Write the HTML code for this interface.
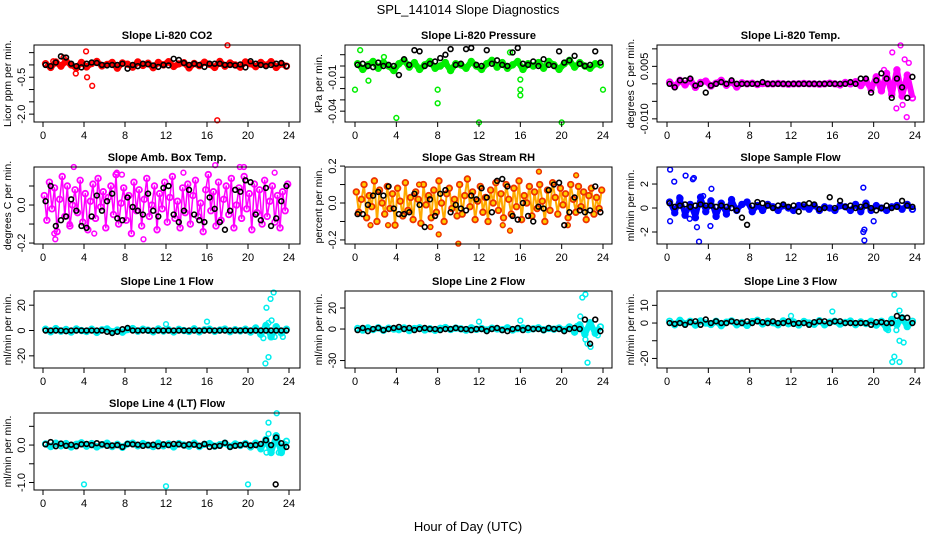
<!DOCTYPE html>
<html><head><meta charset="utf-8">
<style>
html,body{margin:0;padding:0;background:#fff;}
svg{display:block;font-family:"Liberation Sans",sans-serif;}
</style></head>
<body>
<svg id="chart" width="936" height="540" viewBox="0 0 936 540" xmlns="http://www.w3.org/2000/svg">
<text x="468" y="14" text-anchor="middle" font-size="13">SPL_141014  Slope Diagnostics</text>
<text x="468" y="531" text-anchor="middle" font-size="13">Hour of Day (UTC)</text>
</svg>
<script>
const xTicks=[0,4,8,12,16,20,24];
// CO2
const co2Band=[0.05,-0.1,0.12,-0.05,0.15,0.0,-0.12,0.1,-0.08,0.06,0.14,-0.04,0.02,0.1,-0.13,0.08,0.03,-0.09,0.12,-0.02,0.07,-0.11,0.1,0.0,0.13,-0.06,0.04,0.09,-0.12,0.06,-0.03,0.11,0.02,-0.1,0.14,-0.05,0.08,0.0,-0.09,0.12,0.05,-0.07,0.1,-0.02,0.13,-0.1,0.04,-0.05];
const co2Out=[[4.2,0.55],[4.3,-0.5],[3.2,-0.35],[4.8,-0.85],[17,-2.25],[18,0.8],[2,0.3],[1,0.15]];
const co2Black=[0.0,-0.05,0.1,0.35,0.3,0.05,-0.05,-0.1,0.05,0.1,0.08,0.0,-0.02,0.0,0.0,0.05,-0.15,0.0,-0.05,0.05,0.03,-0.02,-0.08,0.0,-0.02,0.25,0.2,0.08,0.0,0.05,0.0,-0.08,0.05,0.05,0.05,0.0,0.0,-0.02,0.02,-0.1,0.15,0.05,0.0,-0.05,0.0,0.05,0.08,-0.05];
// Pressure
const presBand=[0.002,-0.003,0.001,0.004,-0.002,0.003,0.0,-0.004,0.002,0.005,-0.001,0.003,-0.003,0.001,0.004,-0.002,0.0,0.003,-0.004,0.002,0.001,-0.002,0.004,0.0,-0.003,0.002,0.005,-0.001,0.003,-0.002,0.001,0.004,-0.003,0.002,0.0,0.003,-0.002,0.004,0.001,-0.003,0.002,0.005,-0.001,0.003,0.0,-0.002,0.002,0.001];
const presOut=[[0,-0.021],[0.5,0.014],[1.3,-0.013],[4,-0.046],[8,-0.021],[8,-0.033],[12,-0.05],[16,-0.021],[16,-0.026],[16,-0.012],[20,-0.05],[24,-0.021],[2.8,0.008],[15,0.012]];
const presBlack=[0.001,0.002,0.0,-0.001,0.003,0.0,0.001,0.0,-0.008,0.006,0.001,0.014,0.013,0.0,0.002,0.004,0.007,0.01,0.015,0.001,0.002,0.015,0.016,0.001,0.0,0.014,0.002,0.005,0.001,0.0,0.012,0.016,0.002,0.001,0.004,0.0,0.006,0.001,0.0,0.013,0.003,0.005,0.009,0.002,0.0,0.001,0.013,0.003];
// Li-820 Temp
const tempBand=[0.0005,-0.0008,0.001,-0.0003,0.0012,-0.001,0.0004,0.0008,-0.0006,0.0002,0.001,-0.0004,0.0006,-0.0009,0.0003,0.0,0.0002,-0.0002,0.0001,0.0,0.0,0.0001,0.0,-0.0001,0.0,0.0,0.0001,0.0,0.0,-0.0001,0.0,0.0002,0.0,-0.0003,0.0004,0.0,0.0006,-0.0005,0.001,-0.0015,0.002,-0.002,0.003,-0.003,0.004,-0.0035,0.0025,-0.004];
const tempOut=[[21.8,0.009],[22.6,0.011],[23,0.007],[23.4,0.006],[22.2,-0.007],[23.2,-0.0095],[22.8,-0.006],[21,0.004]];
const tempBlack=[0.0,-0.001,0.001,0.001,0.0015,-0.0005,0.0,-0.0025,-0.0005,0.0,0.0005,0.0,0.001,0.0,0.0,0.0,0.0,0.0,0.0005,0.0,0.0,0.0,0.0,0.0,0.0,0.0,0.0,0.0,0.0,0.0,0.0,0.0,0.0,0.0,0.0,0.0005,0.0,0.0015,0.0015,-0.0025,0.001,0.003,0.0015,-0.004,0.0015,-0.001,-0.004,0.002];
// Amb box temp
const ambBand=[0.05,-0.08,0.12,-0.02,0.09,-0.14,0.03,0.15,-0.06,0.1,-0.11,0.0,0.08,-0.04,0.13,-0.09,0.06,-0.13,0.02,0.11,-0.07,0.14,-0.01,0.07,-0.12,0.04,0.1,-0.05,0.16,-0.1,0.01,0.09,-0.08,0.05,-0.15,0.12,-0.03,0.08,-0.11,0.03,0.14,-0.06,0.0,0.1,-0.13,0.06,-0.02,0.12,-0.09,0.04,0.15,-0.07,0.02,-0.12,0.09,-0.04,0.11,-0.1,0.05,0.13,-0.06,0.01,-0.14,0.08,0.16,-0.03,0.07,-0.11,0.12,-0.08,0.03,0.1,-0.05,0.14,-0.12,0.0,0.09,-0.07,0.15,-0.02,0.06,-0.13,0.11,-0.04,0.08,-0.1,0.13,-0.06,0.02,0.1,-0.09,0.05,-0.12,0.07,-0.03,0.11];
const ambOut=[[1.1,-0.15],[1.2,-0.18],[5,-0.15],[9.8,-0.18],[3,0.2],[7.2,0.17],[7.7,0.16],[13.7,0.17],[16.8,0.21],[19.2,0.2],[19.6,0.2],[22.6,0.17],[2.6,-0.1]];
const ambBlack=[0.02,0.1,-0.11,-0.08,-0.06,0.03,-0.03,-0.11,-0.12,-0.06,0.05,-0.03,0.02,0.06,-0.07,-0.08,0.04,-0.01,-0.03,-0.05,0.06,-0.03,-0.06,0.09,0.1,-0.05,-0.09,-0.03,0.08,-0.05,-0.08,-0.09,0.04,-0.02,-0.09,-0.13,-0.03,0.08,0.07,0.13,0.12,-0.05,-0.08,0.09,-0.11,-0.07,0.02,0.1];
// Gas stream RH
const rhBand=[0.06,-0.05,0.02,0.1,-0.08,0.04,-0.02,0.12,-0.1,0.07,0.0,-0.06,0.09,-0.03,0.05,-0.12,0.08,0.01,-0.07,0.11,-0.04,0.03,-0.09,0.06,0.02,-0.11,0.1,-0.01,0.04,-0.08,0.07,-0.05,0.12,0.0,-0.1,0.05,0.08,-0.03,0.02,-0.07,0.1,-0.06,0.04,0.13,-0.02,0.06,-0.09,0.01,0.09,-0.05,0.03,-0.1,0.07,0.0,0.11,-0.04,0.05,-0.08,0.1,0.02,-0.06,0.08,-0.02,0.12,-0.09,0.04,0.0,0.09,-0.07,0.06,-0.03,0.1,0.01,-0.1,0.07,-0.04,0.11,0.03,-0.06,0.08,-0.01,0.05,-0.08,0.1,0.02,-0.05,0.09,-0.02,0.06,-0.09,0.04,0.08,-0.06,0.03,-0.03,0.07];
const rhOut=[[7.3,-0.13],[8.1,-0.17],[10,-0.22],[6.2,0.1],[17.8,0.17],[21.4,0.15],[20.6,-0.12],[15,-0.15],[14.3,-0.12],[1.5,-0.12],[3.2,-0.12]];
const rhBlack=[-0.06,-0.06,-0.01,0.04,0.06,0.04,0.09,-0.03,-0.06,-0.06,-0.05,0.05,-0.01,-0.13,0.02,-0.07,0.05,0.07,-0.05,-0.01,-0.03,-0.04,0.04,0.02,0.08,0.03,-0.05,0.12,0.13,0.09,-0.07,-0.09,0.0,-0.07,-0.1,-0.02,-0.03,0.07,0.1,0.11,-0.12,-0.05,0.03,-0.04,-0.05,-0.04,0.09,-0.05];
// Sample flow
const sampBand=[0.5,-0.4,0.8,-0.6,0.3,-0.8,0.9,-0.3,0.6,-0.7,0.4,-0.5,0.7,-0.2,0.3,0.5,-0.3,0.2,-0.2,0.3,0.1,-0.2,0.2,0.0,-0.2,0.2,0.1,-0.1,0.2,-0.2,0.1,0.0,-0.2,0.2,0.1,-0.2,0.3,-0.3,0.4,-0.2,0.2,0.0,-0.2,0.1,0.2,-0.1,0.3,-0.1];
const sampOut=[[0.3,3.2],[0.7,2.2],[1.8,2.7],[2.5,2.4],[2.6,2.5],[3.1,-2.8],[4.3,1.6],[2.9,-1.6],[0.3,-1.1],[4.2,-1.5],[19,1.7],[19,-2],[19.1,-1.8],[19.1,-2.7],[20,-1.1],[1.2,0.9],[2.2,-0.9],[3.5,1.0]];
const sampBlack=[0.4,0.1,0.2,0.3,0.1,0.2,0.3,0.2,0.2,0.1,0.2,0.1,0.0,-0.2,-0.8,-1.4,0.2,0.5,0.4,0.2,0.0,0.2,0.3,0.1,0.2,-0.3,0.3,0.4,0.3,-0.1,0.0,0.9,0.0,0.6,0.1,0.2,0.0,0.1,0.2,0.0,-0.2,0.0,0.2,0.0,0.1,0.6,0.2,0.1];
// Line 1
const l1Band=[1,-1,1.5,-0.5,0.8,-1.2,1.2,0,-0.8,1,-1.5,0.5,1.2,-1,0.3,-1.3,0.8,1.5,-0.5,1,0.2,-1,1.2,-0.4,0.6,-1.1,0.9,0,-0.7,1.3,-1,0.5,1,-0.6,0.3,1.1,-0.9,0.6,-0.3,1,-1.2,2,-3,4,-5,3,-2,1];
const l1Out=[[21.8,18],[22,6],[22.2,25],[22.5,30],[22.3,8],[21.7,-26],[22,-21],[21.5,-6],[21.2,-3],[22.6,-5],[23.4,-5],[12,5],[16,7]];
const l1Black=[0,0,0,0,-0.5,0,0,0,0,0,0,0,-1,-2,-1,1,2,0,0,0,0,0,0,0,0,0,0,0,0,0,0,0,0,0,0,0,0,0,0,0,0,0,0,0,0,0,0,0];
// Line 2
const l2Band=[0.5,-1,1,-0.5,1.2,-1.2,0.8,0,-0.6,1,-1.4,0.4,1.1,-0.9,0.3,-1.2,0.7,1.4,-0.4,0.9,0.2,-1,1.1,-0.3,0.5,-1,0.8,0.1,-0.6,1.2,-0.9,0.4,1,-0.5,0.2,1.1,-0.8,0.6,-0.2,0.9,-1.1,2,-3,4,-5,6,-4,2];
const l2Out=[[22,30],[22.3,33],[12,7],[16,8],[21.8,12],[22.5,-14],[22.8,-17],[22.3,-10],[22.5,-32],[23.5,-6],[21.5,3]];
const l2Black=[-1,1,-2,0,1,-1,0,1,2,0,1,-1,0,1,0,0,-1,0,0,1,0,0,-1,0,0,-2,0,1,-1,-2,0,1,-1,1,0,0,-1,1,0,0,-2,0,1,0,9,-14,9,-2];
// Line 3
const l3Band=[1,-1,1.5,-0.5,1,-1.2,1.2,0,-0.8,1,-1.5,0.5,1.2,-1,0.3,-1.3,0.8,1.5,-0.5,1,0.2,-1,1.2,-0.4,0.6,-1.1,0.9,0,-0.7,1.3,-1,0.5,1,-0.6,0.3,1.1,-0.9,0.6,-0.3,1,-1.2,1,-3,2,-1,3,-2,1];
const l3Out=[[22,16],[22.5,7],[12,4],[16,6.5],[22,-19],[21.8,-22],[22.5,-22],[22.5,-10],[22.9,-11],[21.4,-4],[22.2,-4]];
const l3Black=[0,-0.5,0,-1,0.5,1,-1,2,0,1,0,0,1,0.5,0,1,0,1,0.5,0,1,0,0,1,-0.5,0,0,-1,0.5,1,1,0,1,1,0,0,0,0,0,-1,0.5,0.5,0,0,4,3,3,0];
// Line 4
const l4Band=[0.03,-0.04,0.05,-0.02,0.04,-0.05,0.02,0.06,-0.03,0.04,-0.05,0.01,0.05,-0.04,0.02,-0.06,0.03,0.05,-0.02,0.04,0.0,-0.04,0.05,-0.02,0.03,-0.05,0.04,0.0,-0.03,0.05,-0.04,0.02,0.04,-0.03,0.01,0.05,-0.04,0.03,-0.01,0.04,-0.05,0.05,-0.1,0.15,-0.2,0.25,-0.2,0.1];
const l4Out=[[4,-1.05],[12,-1.1],[20,-1.05],[22,0.6],[22,0.3],[22.8,0.85],[21.8,-0.2],[23,-0.2]];
const l4Black=[0.02,0.08,-0.03,0.04,-0.02,0.01,-0.03,0.02,0.03,0.0,0.05,0.02,-0.02,-0.01,0.0,-0.05,0.03,0.02,0.01,-0.02,0.0,0.01,-0.03,0.02,0.0,0.03,0.02,-0.01,0.02,0.01,-0.02,0.03,-0.05,-0.03,-0.02,0.06,-0.05,-0.02,0.0,0.02,-0.01,0.0,0.03,0.13,0.0,0.2,0.05,-0.05];
const l4BlackOut=[[22.7,-1.05]];

const NS='http://www.w3.org/2000/svg';
const svg=document.getElementById('chart');
const colL=[34,345,657], colR=[300,612,924], colX0=[43,355,667], colX24=[289,603,915];
const rowT=[45,167,291,413], H=77;
function mk(tag,attrs,parent){const e=document.createElementNS(NS,tag);for(const k in attrs)e.setAttribute(k,attrs[k]);(parent||svg).appendChild(e);return e;}

const panels=[
 {key:'co2',c:0,r:0,title:'Slope Li-820 CO2',ylab:'Licor ppm per min.',ymax:0.81,ymin:-2.32,ticks:[0.5,0,-0.5,-1,-1.5,-2],labels:['-0.5','-2.0'],lv:[-0.5,-2],band:co2Band,out:co2Out,black:co2Black,color:'#ff0000',fill:'none',bw:6},
 {key:'pres',c:1,r:0,title:'Slope Li-820 Pressure',ylab:'kPa per min.',ymax:0.0186,ymin:-0.0496,ticks:[0.01,0,-0.01,-0.02,-0.03,-0.04],labels:['-0.01','-0.04'],lv:[-0.01,-0.04],band:presBand,out:presOut,black:presBlack,color:'#00ee00',fill:'none',bw:6},
 {key:'temp',c:2,r:0,title:'Slope Li-820 Temp.',ylab:'degrees C per min.',ymax:0.0111,ymin:-0.0109,ticks:[0.01,0.005,0,-0.005,-0.01],labels:['0.005','-0.010'],lv:[0.005,-0.01],band:tempBand,out:tempOut,black:tempBlack,color:'#ff00ff',fill:'none',bw:6},
 {key:'amb',c:0,r:1,title:'Slope Amb. Box Temp.',ylab:'degrees C per min.',ymax:0.2,ymin:-0.205,ticks:[0.1,0,-0.1,-0.2],labels:['0.0','-0.2'],lv:[0,-0.2],band:ambBand,out:ambOut,black:ambBlack,color:'#ff00ff',fill:'none',bw:1.5},
 {key:'rh',c:1,r:1,title:'Slope Gas Stream RH',ylab:'percent per min.',ymax:0.195,ymin:-0.222,ticks:[0.2,0.1,0,-0.1,-0.2],labels:['0.2','0.0','-0.2'],lv:[0.2,0,-0.2],band:rhBand,out:rhOut,black:rhBlack,color:'#ffaa00',fill:'#ffcc00',bw:2},
 {key:'samp',c:2,r:1,title:'Slope Sample Flow',ylab:'ml/min per min.',ymax:3.42,ymin:-3.0,ticks:[2,0,-2],labels:['2','0','-2'],lv:[2,0,-2],band:sampBand,out:sampOut,black:sampBlack,color:'#0000ff',fill:'none',bw:5},
 {key:'l1',c:0,r:2,title:'Slope Line 1 Flow',ylab:'ml/min per min.',ymax:31.2,ymin:-29.6,ticks:[20,0,-20],labels:['20','0','-20'],lv:[20,0,-20],band:l1Band,out:l1Out,black:l1Black,color:'#00eeee',fill:'none',bw:6},
 {key:'l2',c:1,r:2,title:'Slope Line 2 Flow',ylab:'ml/min per min.',ymax:36.2,ymin:-37.1,ticks:[20,0,-30],labels:['20','0','-30'],lv:[20,0,-30],band:l2Band,out:l2Out,black:l2Black,color:'#00eeee',fill:'none',bw:6},
 {key:'l3',c:2,r:2,title:'Slope Line 3 Flow',ylab:'ml/min per min.',ymax:18.1,ymin:-25.4,ticks:[10,0,-10,-20],labels:['10','0','-20'],lv:[10,0,-20],band:l3Band,out:l3Out,black:l3Black,color:'#00eeee',fill:'none',bw:6},
 {key:'l4',c:0,r:3,title:'Slope Line 4 (LT) Flow',ylab:'ml/min per min.',ymax:0.856,ymin:-1.2,ticks:[0.5,0,-0.5,-1],labels:['0.0','-1.0'],lv:[0,-1],band:l4Band,out:l4Out,black:l4Black,blackOut:l4BlackOut,color:'#00eeee',fill:'none',bw:6}
];

panels.forEach(p=>{
  const L=colL[p.c],R=colR[p.c],T=rowT[p.r],B=T+H;
  const xs=h=>colX0[p.c]+h*(colX24[p.c]-colX0[p.c])/24;
  const ys=v=>T+(p.ymax-v)/(p.ymax-p.ymin)*H;
  const g=mk('g',{});
  
  
  const t=mk('text',{x:(L+R)/2,y:T-6,'text-anchor':'middle','font-size':11,'font-weight':'bold'},g);
  t.textContent=p.title;
  
  
  const clip=mk('g',{},g);
  const n=p.band.length;
  const pts=p.band.map((v,i)=>xs((i+0.5)*24/n).toFixed(1)+','+ys(v).toFixed(1)).join(' ');
  const cloud=mk('polyline',{points:pts,fill:'none',stroke:p.color,'stroke-width':p.bw,'stroke-linejoin':'round'},clip);
  
  
  p.band.forEach((v,i)=>{
    const h=(i+0.5)*24/n;
    const c=mk('circle',{cx:xs(h),cy:ys(v),r:2.8,fill:p.fill,stroke:p.key==='rh'?'#ee3300':p.color,'stroke-width':1.8},clip);
    
    
  });
  p.out.forEach(d=>{
    const c=mk('circle',{cx:xs(d[0]),cy:ys(d[1]),r:2.4,fill:p.fill,stroke:p.key==='rh'?'#ee3300':p.color,'stroke-width':1.5},clip);
    
    
  });
  const nb=p.black.length;
  p.black.forEach((v,i)=>{
    const h=(i+0.5)*24/nb;
    const c=mk('circle',{cx:xs(h),cy:ys(v),r:2.4,fill:'none',stroke:'#000','stroke-width':1.6},clip);
    
    
  });
  (p.blackOut||[]).forEach(d=>{
    const c=mk('circle',{cx:xs(d[0]),cy:ys(d[1]),r:2.4,fill:'none',stroke:'#000','stroke-width':1.6},clip);
    
    
  });
  const box=mk('rect',{x:L,y:T,width:R-L,height:H,fill:'none',stroke:'#000','stroke-width':1},g);
  
  
  xTicks.forEach(h=>{
    mk('line',{x1:xs(h),x2:xs(h),y1:B,y2:B+5,stroke:'#000'},g);
    const tl=mk('text',{x:xs(h),y:B+17,'text-anchor':'middle','font-size':11},g);
    tl.textContent=h;
    
    
  });
  p.ticks.forEach(v=>{mk('line',{x1:L-5,x2:L,y1:ys(v),y2:ys(v),stroke:'#000'},g);});
  p.labels.forEach((s,i)=>{
    const y=ys(p.lv[i]),x=L-9;
    const tl=mk('text',{x:x,y:y,'text-anchor':'middle','font-size':11,transform:`rotate(-90 ${x} ${y})`},g);
    tl.textContent=s;
    
    
  });
  const yx=L-23,yy=(T+B)/2;
  const yl=mk('text',{x:yx,y:yy,'text-anchor':'middle','font-size':10.5,transform:`rotate(-90 ${yx} ${yy})`},g);
  yl.textContent=p.ylab;
  
  
});
</script>
</body></html>
